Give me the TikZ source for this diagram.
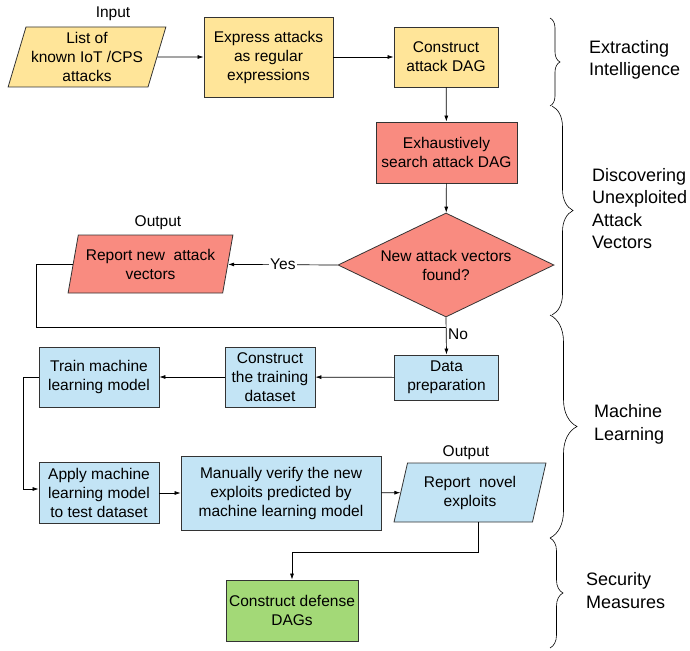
\documentclass[tikz,border=0pt]{standalone}
\usepackage{fontspec}
\setmainfont{Liberation Sans}
\usetikzlibrary{arrows.meta,positioning,shapes.geometric,calc,decorations.pathreplacing}
\definecolor{Yel}{HTML}{FFE599}
\definecolor{Red}{HTML}{F98B80}
\definecolor{Sky}{HTML}{C3E4F5}
\definecolor{Leaf}{HTML}{A3D977}
\definecolor{Edge}{HTML}{333333}

\begin{document}
\begin{tikzpicture}[
    x=1pt,y=-1pt,
    txt/.style={font=\fontsize{15.5}{19}\selectfont,align=center},
    box/.style={txt,draw=Edge,line width=0.8pt,inner sep=1pt},
    io/.style={box,trapezium,trapezium left angle=74,trapezium right angle=106,
      trapezium stretches=true},
    tag/.style={font=\fontsize{18}{22.5}\selectfont,align=left,anchor=west,inner sep=0pt},
    brc/.style={decorate,line width=0.6pt},
    arr/.style={-{Latex[length=6pt,width=4pt]},line width=0.7pt}
  ]
    \useasboundingbox (0,0) rectangle (690,650);

    \node[io,fill=Yel,minimum width=158,minimum height=60,trapezium left angle=72,
      trapezium right angle=108] (in) at (87,57) {List of\\known IoT /CPS\\attacks};
    \node[txt] (inlbl) at (113,14) {Input};
    \node[box,fill=Yel,minimum width=129,minimum height=80] (express) at (268.5,57)
      {Express attacks\\as regular\\expressions};
    \node[box,fill=Yel,minimum width=104,minimum height=60] (dag) at (446,57)
      {Construct\\attack DAG};
    \node[box,fill=Red,minimum width=141,minimum height=61] (search) at (446.5,152.5)
      {Exhaustively\\search attack DAG};
    \node[box,diamond,fill=Red,aspect=2.08,inner sep=0pt,minimum width=216,
      minimum height=104] (found) at (446,265) {New attack vectors\\found?};
    \node[io,fill=Red,minimum width=165,minimum height=58] (out) at (150.5,264)
      {Report new\ \ attack\\vectors};
    \node[txt] (outlbl) at (158,223) {Output};

    \node[box,fill=Sky,minimum width=104,minimum height=45] (data) at (446.5,377.5)
      {Data\\preparation};
    \node[box,fill=Sky,minimum width=90,minimum height=60] (trainset) at (270,377)
      {Construct\\the training\\dataset};
    \node[box,fill=Sky,minimum width=120,minimum height=60] (train) at (99,377)
      {Train machine\\learning model};
    \node[box,fill=Sky,minimum width=120,minimum height=61] (apply) at (99,493)
      {Apply machine\\learning model\\to test dataset};
    \node[box,fill=Sky,minimum width=200,minimum height=74] (verify) at (281,493)
      {Manually verify the new\\exploits predicted by\\machine learning model};
    \node[io,fill=Sky,minimum width=152,minimum height=59] (novel) at (470,492.5)
      {Report\ \ novel\\exploits};
    \node[txt] (novlbl) at (466,453) {Output};
    \node[box,fill=Leaf,minimum width=132,minimum height=61] (defense) at (292,610.5)
      {Construct defense\\DAGs};

    \coordinate (lp) at (36,327);
    \coordinate (merge) at (446,327);

    \draw[arr] (in) -- (express);
    \draw[arr] (express) -- (dag);
    \draw[arr] (dag) -- (search);
    \draw[arr] (search) -- (found);
    \draw[arr] (found.west) -- node[txt,fill=white,inner sep=1pt] {Yes} (out);
    \draw[line width=0.7pt] (out.west) -| (lp) -- (merge);
    \draw[arr] (found.south) -- (data.north);
    \node[txt,anchor=north west,inner sep=2pt] (no) at (merge) {No};
    \draw[arr] (data) -- (trainset);
    \draw[arr] (trainset) -- (train);
    \draw[arr] (train.west) -- ++(-15,0) |- ([yshift=4pt]apply.west);
    \draw[arr] (apply) -- (verify);
    \draw[arr] (verify) -- (novel);
    \draw[arr] ([xshift=8pt]novel.south) -- ++(0,30) -| (defense.north);

    \draw[brc,decoration={brace,amplitude=10pt}] (550,18) -- (550,106);
    \draw[brc,decoration={brace,amplitude=21pt}] (552,106) -- (552,315);
    \draw[brc,decoration={brace,amplitude=27pt}] (550,315) -- (550,538);
    \draw[brc,decoration={brace,amplitude=13pt}] (550,538) -- (550,648);
    \node[tag] (intel) at (589,60) {Extracting\\Intelligence};
    \node[tag] (disc) at (592,208.5) {Discovering\\Unexploited\\Attack\\Vectors};
    \node[tag] (ml) at (594,424.5) {Machine\\Learning};
    \node[tag] (sec) at (586,590.5) {Security\\Measures};
  \end{tikzpicture}
\end{document}
